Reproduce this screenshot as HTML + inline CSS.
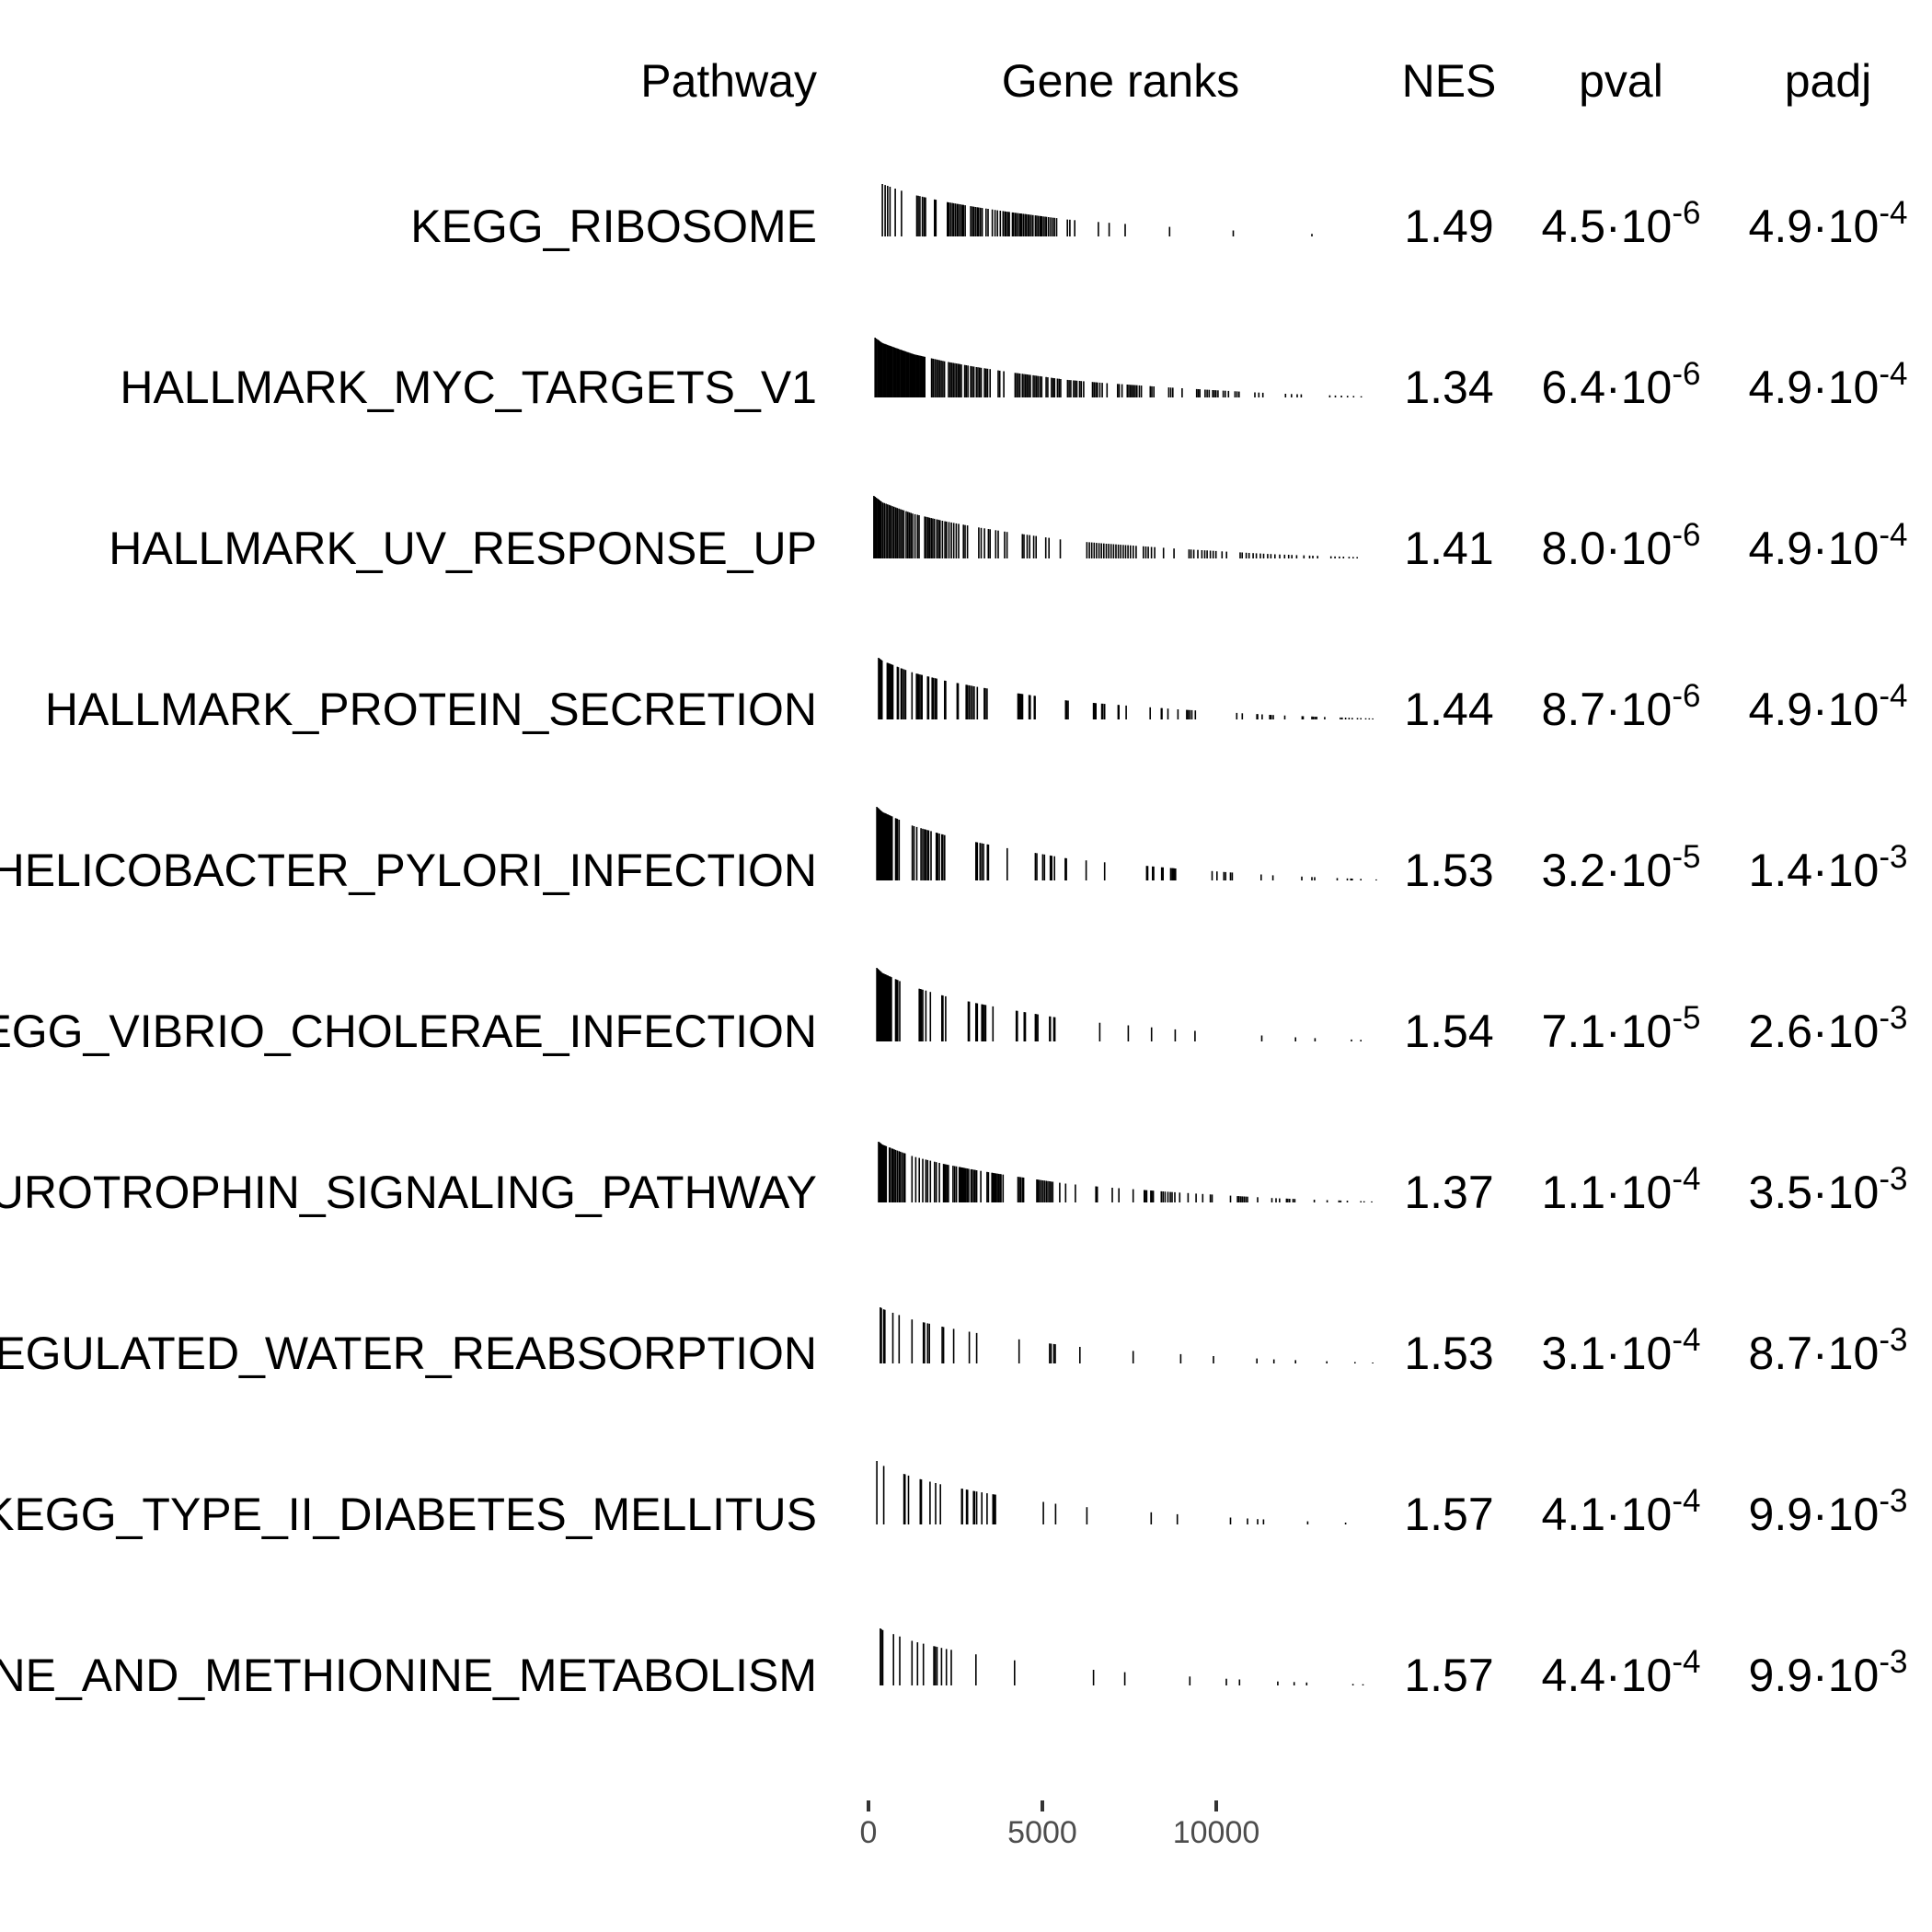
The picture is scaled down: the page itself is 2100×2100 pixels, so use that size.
<!DOCTYPE html>
<html>
<head>
<meta charset="utf-8">
<style>
  html,body{margin:0;padding:0;background:#fff;}
  svg{display:block;}
  text{font-family:"Liberation Sans",Arial,sans-serif;}
</style>
</head>
<body>
<svg id="chart" width="2100" height="2100" viewBox="0 0 2100 2100" xmlns="http://www.w3.org/2000/svg">
  <rect x="0" y="0" width="2100" height="2100" fill="#fff"/>
  <g id="header" font-size="50" fill="#000">
    <text x="888" y="105" text-anchor="end">Pathway</text>
    <text x="1218" y="105" text-anchor="middle">Gene ranks</text>
    <text x="1575" y="105" text-anchor="middle">NES</text>
    <text x="1762" y="105" text-anchor="middle">pval</text>
    <text x="1987" y="105" text-anchor="middle">padj</text>
  </g>
  <g id="rows"></g>
  <g id="axis"></g>
</svg>
<script>
// ---- data ----
const pathways = ["KEGG_RIBOSOME","HALLMARK_MYC_TARGETS_V1","HALLMARK_UV_RESPONSE_UP","HALLMARK_PROTEIN_SECRETION","KEGG_EPITHELIAL_CELL_SIGNALING_IN_HELICOBACTER_PYLORI_INFECTION","KEGG_VIBRIO_CHOLERAE_INFECTION","KEGG_NEUROTROPHIN_SIGNALING_PATHWAY","KEGG_VASOPRESSIN_REGULATED_WATER_REABSORPTION","KEGG_TYPE_II_DIABETES_MELLITUS","KEGG_CYSTEINE_AND_METHIONINE_METABOLISM"];
const nesValues = ["1.49","1.34","1.41","1.44","1.53","1.54","1.37","1.53","1.57","1.57"];
const pvalMantissa = ["4.5","6.4","8.0","8.7","3.2","7.1","1.1","3.1","4.1","4.4"];
const pvalExponent = ["-6","-6","-6","-6","-5","-5","-4","-4","-4","-4"];
const padjMantissa = ["4.9","4.9","4.9","4.9","1.4","2.6","3.5","8.7","9.9","9.9"];
const padjExponent = ["-4","-4","-4","-4","-3","-3","-3","-3","-3","-3"];
const tickValues = [0, 5000, 10000];
const tickLabels = ["0","5000","10000"];
// ranked statistic (relative) vs. rank
const statRank = [0,30,150,400,900,1300,2200,3100,4000,5700,6800,8800,10400,11700,13000,14600,16000];
const statValue = [1.0,0.84,0.76,0.68,0.60,0.54,0.45,0.38,0.32,0.22,0.18,0.12,0.08,0.05,0.03,0.01,0.005];
const rowTallest = [57,65,68,67,80,80,66,61,69,62];

const ranks0 = [400,480,550,620,770,950,1390,1430,1480,1550,1600,1640,1900,1940,2270,2310,2360,2410,2450,2500,2550,2590,2640,2690,2730,2780,2940,2990,3030,3080,3130,3170,3220,3270,3380,3440,3560,3640,3710,3790,3870,3920,3960,4010,4050,4140,4170,4220,4260,4310,4360,4400,4450,4500,4540,4590,4630,4680,4730,4800,4840,4890,4940,4980,5030,5080,5120,5180,5240,5300,5350,5410,5720,5790,5930,6610,6920,7380,8660,10490,12750];
const ranks1 = [190,226,261,295,330,365,400,435,470,504,539,574,609,643,678,713,748,783,817,852,887,922,957,991,1026,1061,1096,1131,1165,1200,1235,1270,1305,1339,1374,1409,1444,1479,1513,1548,1583,1618,1815,1861,1908,1954,2000,2047,2093,2140,2186,2302,2349,2395,2441,2488,2534,2581,2627,2673,2766,2813,2859,2940,2987,3033,3103,3149,3195,3242,3335,3381,3427,3497,3729,3775,3891,4216,4263,4309,4355,4425,4471,4518,4564,4610,4657,4738,4785,4831,4877,4935,4982,5109,5156,5261,5307,5353,5434,5481,5527,5724,5771,5817,5898,5945,5991,6072,6119,6189,6443,6490,6536,6583,6653,6722,6861,7163,7209,7290,7441,7487,7534,7580,7626,7673,7719,7789,7847,8102,8149,8207,8636,8694,8752,9019,9436,9483,9529,9680,9738,9796,9900,9947,9993,10051,10202,10260,10353,10539,10597,10655,11110,11226,11342,11991,12165,12328,12444,13264,13427,13601,13775,13949,14169];
const ranks2 = [156,191,226,261,295,330,365,411,458,504,551,597,643,690,736,783,829,875,922,968,1015,1084,1131,1177,1223,1270,1339,1409,1455,1618,1664,1711,1757,1803,1850,1896,1966,2012,2059,2128,2198,2244,2314,2383,2453,2523,2592,2731,2778,2847,3172,3242,3335,3451,3497,3659,3729,3915,3984,4425,4471,4564,4634,4750,4819,5098,5191,5515,6281,6351,6420,6490,6559,6629,6699,6768,6838,6907,6977,7047,7116,7186,7255,7325,7395,7464,7534,7615,7696,7905,7975,8044,8137,8230,8485,8787,9216,9275,9355,9471,9587,9668,9738,9831,9912,9993,10167,10295,10689,10747,10863,10944,11060,11153,11269,11362,11478,11571,11687,11826,11965,12081,12174,12313,12522,12684,12777,12916,13299,13415,13543,13659,13821,13937,14053];
const ranks3 = [290,320,350,370,390,540,560,580,600,620,640,660,680,700,830,860,940,970,1020,1070,1250,1380,1410,1440,1480,1520,1540,1700,1730,1830,1870,1920,1960,2190,2220,2550,2580,2810,2840,2890,2940,2990,3040,3130,3330,3360,3410,4300,4330,4360,4400,4430,4620,4650,4770,4790,5670,5700,5740,6470,6500,6540,6710,6740,6790,7180,7200,7410,8100,8420,8440,8610,8900,9150,9190,9240,9300,9400,10590,10750,11170,11190,11320,11540,11580,11640,11970,12470,12500,12750,12790,12840,12890,13120,13570,13620,13720,13820,13910,14060,14160,14300,14400,14500];
const ranks4 = [240,270,290,320,350,370,390,410,440,470,490,510,540,560,580,600,630,660,680,780,810,830,880,1260,1310,1390,1510,1560,1610,1650,1700,1730,1800,1950,1990,2040,2110,2140,2190,3090,3130,3210,3260,3310,3420,3450,3990,4800,4840,5010,5060,5230,5270,5350,5660,5690,6260,6790,8000,8030,8170,8200,8430,8470,8690,8730,8760,8790,8830,9880,10020,10220,10270,10410,10460,11290,11630,12460,12750,12830,13480,13770,13870,13910,14160,14600];
const ranks5 = [240,270,300,330,360,390,420,450,480,510,540,560,600,630,660,780,810,840,900,1460,1490,1520,1560,1650,1780,2110,2140,2220,2870,2900,3090,3130,3260,3290,3330,3370,3580,4250,4280,4480,4510,4800,4830,4870,5210,5230,5330,5360,6650,7470,8140,8820,9390,11310,12280,12840,13890,14160];
const ranks6 = [290,310,330,350,370,390,410,430,450,470,490,510,600,630,680,700,740,780,830,880,920,970,1020,1050,1250,1360,1460,1560,1650,1700,1780,1900,1950,2040,2160,2190,2220,2260,2300,2430,2480,2530,2610,2650,2690,2720,2760,2800,2840,2880,2950,2990,3040,3070,3110,3230,3410,3450,3550,3580,3620,3660,3700,3740,3780,3810,3870,4300,4340,4380,4430,4460,4840,4870,4910,4960,5010,5060,5110,5160,5210,5250,5300,5500,5670,5950,6540,6580,7010,7200,7610,7930,7960,8000,8120,8150,8190,8420,8470,8530,8610,8680,8730,8810,8950,9190,9420,9610,9830,9880,10410,10610,10650,10700,10750,10800,10850,10900,11190,11600,11720,11820,12020,12060,12110,12210,12260,12820,13190,13530,13580,13770,14160,14250,14470];
const ranks7 = [340,370,440,470,700,880,1250,1580,1610,1700,1750,2120,2160,2450,2900,3110,4330,5210,5250,5330,5370,6080,7610,8980,9920,11170,11660,12280,13180,13990,14500];
const ranks8 = [240,440,1020,1050,1150,1490,1520,1770,1930,2070,2680,2700,2820,2850,3020,3050,3110,3260,3410,3580,3620,3650,5030,5380,6280,8130,8880,10410,10900,11190,11360,12630,13720];
const ranks9 = [340,370,410,720,900,1250,1410,1580,1880,1920,1970,2100,2240,2380,3090,4200,6470,7370,9240,10290,10670,11770,12240,12600,13930,14220];
const geneRanks = [ranks0,ranks1,ranks2,ranks3,ranks4,ranks5,ranks6,ranks7,ranks8,ranks9];

// ---- scales ----
const NS = "http://www.w3.org/2000/svg";
function xScale(r){ return 944 + r * 0.0378; }
function rowBaseline(i){ return 263 + i * 175; }
function barBottom(i){ return 257 + i * 175; }
function statAt(r){
  for (let k = 1; k < statRank.length; k++) {
    if (r <= statRank[k]) {
      const t = (r - statRank[k-1]) / (statRank[k] - statRank[k-1]);
      return statValue[k-1] + t * (statValue[k] - statValue[k-1]);
    }
  }
  return statValue[statValue.length-1];
}
function mk(tag, attrs){
  const e = document.createElementNS(NS, tag);
  for (const k in attrs) e.setAttribute(k, attrs[k]);
  return e;
}

const rowsG = document.getElementById('rows');
pathways.forEach((name, i) => {
  const g = mk('g', {});
  
  
  const y = rowBaseline(i);

  const label = mk('text', {x: 888, y: y, 'text-anchor': 'end', 'font-size': 50, fill: '#000'});
  label.textContent = name;
  
  
  g.appendChild(label);

  const ranks = geneRanks[i];
  const s0 = statAt(ranks[0]);
  const bars = mk('g', {fill: '#000'});
  
  
  const yb = barBottom(i);
  ranks.forEach(r => {
    const h = rowTallest[i] * statAt(r) / s0;
    const b = mk('rect', {x: (xScale(r) - 0.8).toFixed(1), y: (yb - h).toFixed(1), width: 1.6, height: Math.max(h, 1).toFixed(1)});
    
    
    bars.appendChild(b);
  });
  g.appendChild(bars);

  const nes = mk('text', {x: 1575, y: y, 'text-anchor': 'middle', 'font-size': 50, fill: '#000'});
  nes.textContent = nesValues[i];
  
  
  g.appendChild(nes);

  [[1762, pvalMantissa[i], pvalExponent[i], 'pval-value'], [1987, padjMantissa[i], padjExponent[i], 'padj-value']].forEach(([cx, m, ex, nm]) => {
    const t = mk('text', {x: cx, y: y, 'text-anchor': 'middle', 'font-size': 50, fill: '#000'});
    
    
    const a = mk('tspan', {});
    a.textContent = m + '\u00B710';
    const b = mk('tspan', {'font-size': 35, dy: -20});
    b.textContent = ex;
    t.appendChild(a); t.appendChild(b);
    g.appendChild(t);
  });
  rowsG.appendChild(g);
});

// ---- axis ----
const axisG = document.getElementById('axis');
tickValues.forEach((v, k) => {
  const x = xScale(v);
  const tk = mk('rect', {x: x - 2, y: 1957, width: 4, height: 12, fill: '#333'});
  
  
  axisG.appendChild(tk);
  const lb = mk('text', {x: x, y: 2003, 'text-anchor': 'middle', 'font-size': 34, fill: '#4d4d4d'});
  lb.textContent = tickLabels[k];
  
  
  axisG.appendChild(lb);
});
</script>
</body>
</html>
